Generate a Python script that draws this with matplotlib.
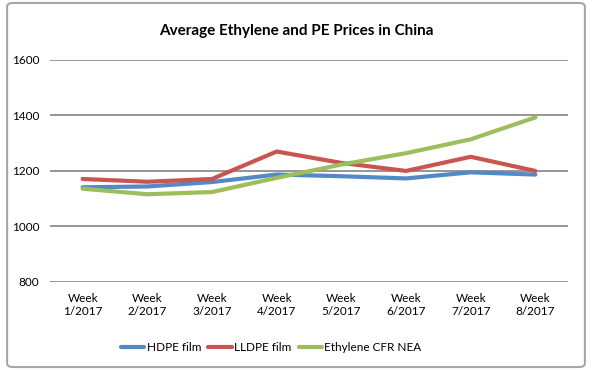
import matplotlib.pyplot as plt
from matplotlib.patches import FancyBboxPatch

# 数据
weeks = ["Week\n1/2017", "Week\n2/2017", "Week\n3/2017", "Week\n4/2017",
         "Week\n5/2017", "Week\n6/2017", "Week\n7/2017", "Week\n8/2017"]
hdpe = [1141, 1144, 1160, 1187, 1181, 1173, 1195, 1187]
lldpe = [1171, 1161, 1171, 1270, 1229, 1200, 1251, 1200]
ethylene = [1136, 1116, 1124, 1175, 1223, 1264, 1314, 1393]

series = [("HDPE film", hdpe, "#5289C7"),
          ("LLDPE film", lldpe, "#C8554F"),
          ("Ethylene CFR NEA", ethylene, "#9DBE5C")]

plt.rcParams['font.family'] = ['Lato', 'DejaVu Sans']

fig = plt.figure(figsize=(5.92, 3.70), dpi=100)
ax = fig.add_axes([0.085, 0.238, 0.874, 0.600])

x = list(range(len(weeks)))
for name, vals, color in series:
    ax.plot(x, vals, color=color, linewidth=3.0, label=name, solid_capstyle='round')

ax.set_xlim(-0.5, len(weeks) - 0.5)
ax.set_ylim(800, 1600)
ax.set_yticks([800, 1000, 1200, 1400, 1600])
ax.set_xticks(x)
ax.set_xticklabels(weeks, fontsize=8.5)
ax.tick_params(axis='y', labelsize=8.5, length=0, pad=8)
ax.tick_params(axis='x', length=0, pad=8)
ax.grid(axis='y', color='#8e8e8e', linewidth=1.3)
ax.set_axisbelow(True)
for s in ax.spines.values():
    s.set_visible(False)

fig.text(0.5, 0.915, "Average Ethylene and PE Prices in China",
         ha='center', va='center', fontsize=11, fontweight='bold')

fig.legend(loc='center', bbox_to_anchor=(0.458, 0.06), ncol=3, frameon=False,
           fontsize=8.5, handlelength=2.0, handletextpad=0.2, columnspacing=0.6)

# 外框
border = FancyBboxPatch((0.012, 0.008), 0.976, 0.984, boxstyle="round,pad=0,rounding_size=0.01",
                        transform=fig.transFigure, fill=False, edgecolor='#a6a6a6', linewidth=1.5)
fig.patches.append(border)

fig.savefig("out.png", dpi=100)
